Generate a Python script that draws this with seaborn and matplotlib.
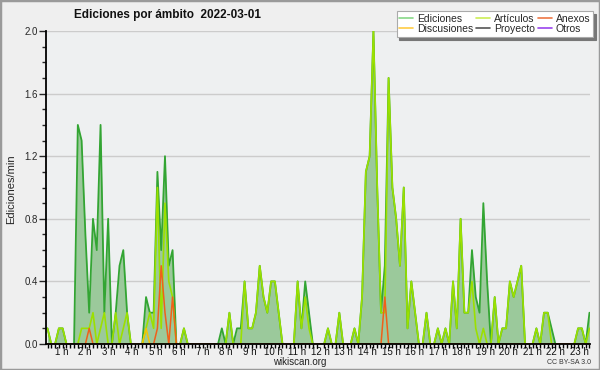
import numpy as np
import pandas as pd
import matplotlib
matplotlib.use("Agg")
import matplotlib.pyplot as plt
from matplotlib.lines import Line2D
from matplotlib.patches import Rectangle
from matplotlib.ticker import MultipleLocator, FixedLocator
import seaborn as sns

# edits per minute, 10-minute bins from 00:00 to 23:50
ediciones = [
    0.1, 0, 0, 0.1, 0.1, 0, 0, 0, 1.4, 1.3, 0.7, 0.2,
    0.8, 0.6, 1.4, 0.2, 0.8, 0, 0.2, 0.5, 0.6, 0.2, 0, 0,
    0, 0, 0.3, 0.2, 0.2, 1.1, 0.6, 1.2, 0.5, 0.6, 0, 0,
    0.1, 0, 0, 0, 0, 0, 0, 0, 0, 0, 0.1, 0,
    0.2, 0, 0.1, 0.1, 0.4, 0.1, 0.1, 0.2, 0.5, 0.3, 0.2, 0.4,
    0.4, 0.2, 0, 0, 0, 0, 0.4, 0.1, 0.4, 0.2, 0, 0,
    0, 0, 0.1, 0, 0, 0.2, 0, 0, 0, 0.1, 0, 0.3,
    1.1, 1.2, 2.0, 1.0, 0.2, 0.5, 1.7, 1.0, 0.8, 0.5, 1.0, 0.1,
    0.4, 0.2, 0, 0, 0.2, 0, 0, 0.1, 0, 0.1, 0, 0.4,
    0.1, 0.8, 0.2, 0.2, 0.6, 0.3, 0.2, 0.9, 0.4, 0, 0.3, 0,
    0.1, 0.1, 0.4, 0.3, 0.4, 0.5, 0, 0, 0, 0.1, 0, 0.2,
    0.2, 0.1, 0, 0, 0, 0, 0, 0, 0.1, 0.1, 0, 0.2,
]
articulos = [
    0.1, 0, 0, 0.1, 0.1, 0, 0, 0, 0, 0.1, 0.1, 0.1,
    0.2, 0, 0.1, 0.2, 0, 0, 0.2, 0, 0.1, 0.2, 0, 0,
    0, 0, 0.1, 0.2, 0.1, 1.0, 0.1, 0.9, 0.4, 0.3, 0, 0,
    0.1, 0, 0, 0, 0, 0, 0, 0, 0, 0, 0, 0,
    0.2, 0, 0, 0, 0.4, 0.1, 0.1, 0.2, 0.5, 0.3, 0.2, 0.4,
    0.4, 0.2, 0, 0, 0, 0, 0.4, 0.1, 0.3, 0.1, 0, 0,
    0, 0, 0.1, 0, 0, 0.2, 0, 0, 0, 0.1, 0, 0.3,
    1.1, 1.2, 2.0, 1.0, 0.2, 0.2, 1.7, 1.0, 0.8, 0.5, 1.0, 0.1,
    0.4, 0.2, 0, 0, 0.2, 0, 0, 0.1, 0, 0.1, 0, 0.4,
    0.1, 0.8, 0.2, 0.2, 0.4, 0.1, 0, 0.1, 0, 0, 0.3, 0,
    0.1, 0.1, 0.4, 0.3, 0.4, 0.5, 0, 0, 0, 0.1, 0, 0.2,
    0.2, 0, 0, 0, 0, 0, 0, 0, 0.1, 0.1, 0, 0.1,
]
anexos = [
    0, 0, 0, 0, 0, 0, 0, 0, 0, 0, 0, 0.1,
    0, 0, 0, 0, 0, 0, 0, 0, 0, 0, 0, 0,
    0, 0, 0, 0, 0, 0.1, 0.5, 0.2, 0, 0.3, 0, 0,
    0, 0, 0, 0, 0, 0, 0, 0, 0, 0, 0, 0,
    0, 0, 0, 0, 0, 0, 0, 0, 0, 0, 0, 0,
    0, 0, 0, 0, 0, 0, 0, 0, 0, 0, 0, 0,
    0, 0, 0, 0, 0, 0, 0, 0, 0, 0, 0, 0,
    0, 0, 0, 0, 0, 0.3, 0, 0, 0, 0, 0, 0,
    0, 0, 0, 0, 0, 0, 0, 0, 0, 0, 0, 0,
    0, 0, 0, 0, 0, 0, 0, 0, 0, 0, 0, 0,
    0, 0, 0, 0, 0, 0, 0, 0, 0, 0, 0, 0,
    0, 0, 0, 0, 0, 0, 0, 0, 0, 0, 0, 0,
]
discusiones = [
    0, 0, 0, 0, 0, 0, 0, 0, 0, 0, 0, 0,
    0, 0, 0, 0, 0, 0, 0, 0, 0, 0, 0, 0,
    0, 0, 0.1, 0, 0, 0, 0, 0, 0, 0, 0, 0,
    0, 0, 0, 0, 0, 0, 0, 0, 0, 0, 0, 0,
    0, 0, 0, 0, 0, 0, 0, 0, 0, 0, 0, 0,
    0, 0, 0, 0, 0, 0, 0, 0, 0, 0, 0, 0,
    0, 0, 0, 0, 0, 0, 0, 0, 0, 0, 0, 0,
    0, 0, 0, 0, 0, 0, 0, 0, 0, 0, 0, 0,
    0, 0, 0, 0, 0, 0, 0, 0, 0, 0, 0, 0,
    0, 0, 0, 0, 0, 0, 0, 0, 0, 0, 0, 0,
    0, 0, 0, 0, 0, 0, 0, 0, 0, 0, 0, 0,
    0, 0, 0, 0, 0, 0, 0, 0, 0, 0, 0, 0,
]
hours = list(range(1, 24))
hour_labels = [f"{h} h" for h in hours]
legend_names = ["Ediciones", "Discusiones", "Artículos", "Proyecto", "Anexos", "Otros"]
legend_colors = ["#88d888", "#ffcc44", "#ccee55", "#555555", "#ee7744", "#9944ee"]

sns.set_style("ticks")
plt.rcParams["font.family"] = ["Liberation Sans", "DejaVu Sans"]

df = pd.DataFrame({
    "hora": np.arange(len(ediciones)) / 6,
    "Ediciones": ediciones,
    "Artículos": articulos,
    "Anexos": anexos,
    "Discusiones": discusiones,
})

fig = plt.figure(figsize=(6, 3.7), dpi=100, facecolor="#efefef")
ax = fig.add_axes([46 / 600, 26 / 370, 544 / 600, 313 / 370])
ax.set_facecolor("#eef0f1")

ax.fill_between(df["hora"], df["Ediciones"], color="#9bc99b", lw=0, zorder=1)
sns.lineplot(data=df, x="hora", y="Ediciones", color="#33a533", lw=1.3, ax=ax, zorder=2)
sns.lineplot(data=df, x="hora", y="Artículos", color="#9be000", lw=1.2, ax=ax, zorder=3)
sns.lineplot(data=df, x="hora", y="Discusiones", color="#f5c400", lw=1.1, ax=ax, zorder=4)
sns.lineplot(data=df, x="hora", y="Anexos", color="#f0601a", lw=1.1, ax=ax, zorder=4)

ax.set_xlim(-0.066, 23.857)
ax.set_ylim(0, 2.0)
ax.set_xlabel("")
ax.set_ylabel("")

# hour labels sit slightly off the 10-min grid in the original
ax.xaxis.set_major_locator(FixedLocator([12 + (h - 12) * 1.035 for h in hours]))
ax.set_xticklabels(hour_labels)
ax.xaxis.set_minor_locator(FixedLocator(df["hora"].tolist()))
ax.tick_params(axis="x", which="major", length=0, labelsize=7, pad=2.5, colors="#111111")
ax.tick_params(axis="x", which="minor", length=3, width=1, color="black", direction="out")

ax.yaxis.set_major_locator(MultipleLocator(0.4))
ax.yaxis.set_minor_locator(MultipleLocator(0.1))
ax.yaxis.set_major_formatter(matplotlib.ticker.FormatStrFormatter("%.1f"))
ax.tick_params(axis="y", which="major", length=5, width=1, labelsize=7, pad=1)
ax.tick_params(axis="y", which="minor", length=3, width=1)
ax.grid(axis="y", which="major", color="#cccccc", lw=1)
ax.set_axisbelow(True)

for side in ["top", "right"]:
    ax.spines[side].set_visible(False)
for side in ["left", "bottom"]:
    ax.spines[side].set_color("black")
    ax.spines[side].set_linewidth(1.3)
    ax.spines[side].set_zorder(6)

handles = [Line2D([], [], color=c, lw=1.2) for c in legend_colors]
leg = fig.legend(handles, legend_names, loc="upper right", bbox_to_anchor=(593 / 600, 1 - 11 / 370),
                 ncol=3, fontsize=7.5, frameon=True, fancybox=False,
                 shadow={"color": "#777777", "alpha": 1},
                 handlelength=1.3, handletextpad=0.4, columnspacing=0.3,
                 labelspacing=0.05, borderpad=0.25, borderaxespad=0)
leg.get_frame().set_edgecolor("#aaaaaa")
leg.get_frame().set_facecolor("white")
leg.get_frame().set_linewidth(0.8)

fig.text(74 / 600, 1 - 18 / 370, "Ediciones por ámbito  2022-03-01", fontsize=8.5,
         fontweight="bold", va="baseline", ha="left", color="#111111")
fig.text(11 / 600, 0.49, "Ediciones/min", rotation=90, fontsize=8, va="center", ha="center")
fig.text(300 / 600, 1 - 362 / 370, "wikiscan.org", fontsize=7, va="center", ha="center", color="#222222")
fig.text(591 / 600, 1 - 362 / 370, "CC BY-SA 3.0", fontsize=5, va="center", ha="right", color="#333333")
fig.add_artist(Rectangle((0, 0), 1, 1, transform=fig.transFigure, fill=False,
                         edgecolor="#9a9a9a", lw=2.5))

fig.savefig("out.png", dpi=100, facecolor=fig.get_facecolor())
